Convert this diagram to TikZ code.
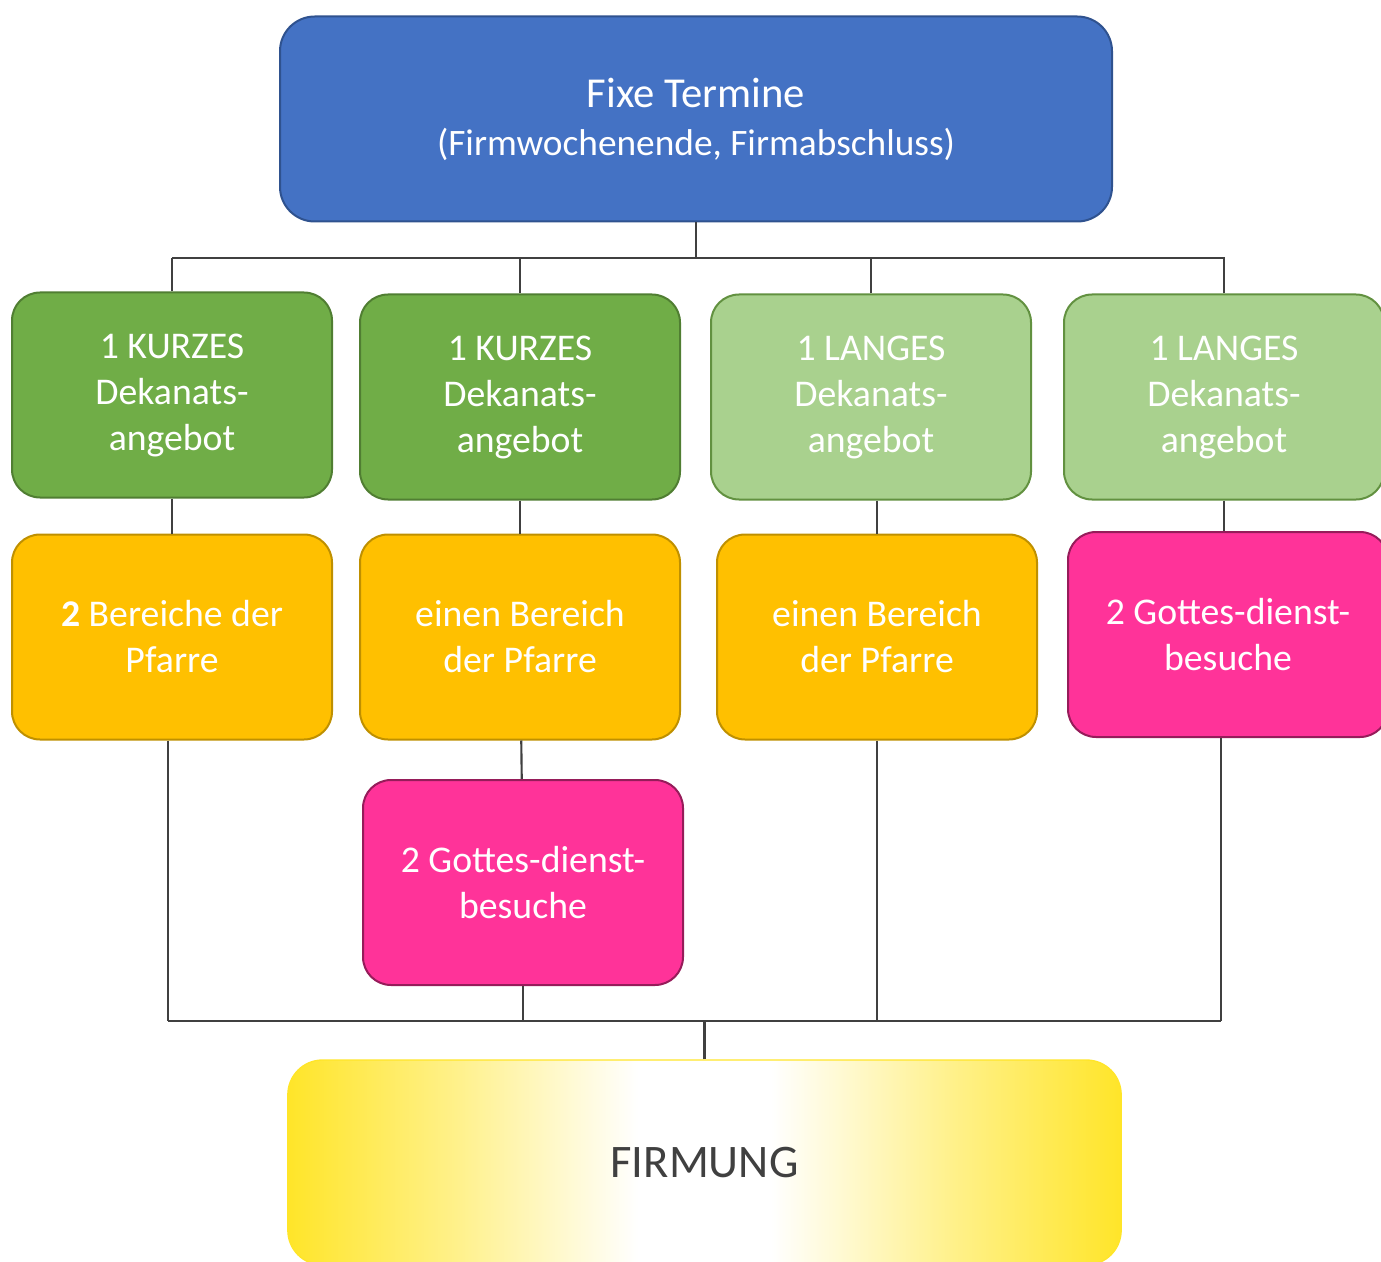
\documentclass[tikz,border=0pt]{standalone}
\usepackage{fontspec}
\setmainfont{Carlito}
\usetikzlibrary{calc}

\definecolor{fixblue}{RGB}{68,114,196}
\definecolor{fixblueline}{RGB}{47,82,143}
\definecolor{kurzgreen}{RGB}{112,173,71}
\definecolor{kurzline}{RGB}{80,126,50}
\definecolor{langgreen}{RGB}{169,209,142}
\definecolor{langline}{RGB}{98,145,64}
\definecolor{pfarreorange}{RGB}{255,192,0}
\definecolor{pfarreline}{RGB}{191,144,0}
\definecolor{gdpink}{RGB}{255,51,153}
\definecolor{gdline}{RGB}{150,28,90}
\definecolor{firmyellow}{RGB}{255,229,41}
\definecolor{wiregray}{RGB}{64,64,64}

\pgfdeclarehorizontalshading{firmglow}{100bp}{color(0bp)=(firmyellow); color(25bp)=(firmyellow); color(35bp)=(firmyellow!55!white); color(46bp)=(white); color(54bp)=(white); color(65bp)=(firmyellow!55!white); color(75bp)=(firmyellow); color(100bp)=(firmyellow)}

\tikzset{every picture/.style={line width=0.75pt}}
\tikzset{
  tile/.style={rounded corners=21pt, line width=1.5pt, text=white, align=center, inner sep=0pt,
    minimum width=240pt, minimum height=153.75pt, font=\fontsize{28.3}{34.5}\selectfont},
  kurz/.style={tile, fill=kurzgreen, draw=kurzline},
  lang/.style={tile, fill=langgreen, draw=langline},
  pfarre/.style={tile, fill=pfarreorange, draw=pfarreline},
  gd/.style={tile, fill=gdpink, draw=gdline},
  wire/.style={draw=wiregray, line width=1.6pt}
}

\begin{document}
\begin{tikzpicture}[x=0.75pt,y=0.75pt,yscale=-1,xscale=1]
\useasboundingbox (0,0) rectangle (1381,1262);

%Shape: Rounded Rect [top]
\node (fixe) [tile, fill=fixblue, draw=fixblueline, rounded corners=26pt, minimum width=624pt,
  font=\fontsize{32}{36}\selectfont] at (696,119) {Fixe Termine\\{\fontsize{28}{36}\selectfont(Firmwochenende, Firmabschluss)}};

%Shape: Rounded Rect [row 1]
\node (kurzA) [kurz] at (172,395) {1 KURZES\\Dekanats-\\angebot};
\node (kurzB) [kurz] at (520,397) {1 KURZES\\Dekanats-\\angebot};
\node (langA) [lang] at (871,397) {1 LANGES\\Dekanats-\\angebot};
\node (langB) [lang] at (1224,397) {1 LANGES\\Dekanats-\\angebot};

%Shape: Rounded Rect [row 2]
\node (bereichA) [pfarre] at (172,637) {\textbf{2} Bereiche der\\Pfarre};
\node (bereichB) [pfarre] at (520,637) {einen Bereich\\der Pfarre};
\node (bereichC) [pfarre] at (877,637) {einen Bereich\\der Pfarre};
\node (gdB) [gd] at (1228,634.5) {2 Gottes-dienst-\\besuche};

%Shape: Rounded Rect [row 3]
\node (gdA) [gd] at (523,882.5) {2 Gottes-dienst-\\besuche};

%Shape: Rounded Rect [bottom]
\node (firmung) [tile, shading=firmglow, draw=firmyellow, line width=1pt, rounded corners=26pt,
  minimum width=625pt, text=wiregray, font=\fontsize{35}{42}\selectfont] at (704.5,1162.5) {FIRMUNG};

%Straight Lines [top bus]
\coordinate (busL) at (172,258);
\coordinate (busR) at (1225,258);
\draw [wire] (busL) -- (busR);
\draw [wire] (fixe.south) -- (fixe.south |- busL);
\foreach \n in {kurzA,kurzB,langA,langB}
  \draw [wire] (\n.north) -- (\n.north |- busL);

%Straight Lines [inner links]
\draw [wire] (kurzA) -- (bereichA);
\draw [wire] (kurzB) -- (bereichB);
\draw [wire] (bereichC.north |- langA.south) -- (bereichC.north);
\draw [wire] (langB.south) -- (langB.south |- gdB.north);
\draw [wire] (bereichB) -- (gdA);

%Straight Lines [bottom bus]
\coordinate (sumL) at (168,1021);
\coordinate (sumR) at (1221,1021);
\draw [wire] (sumL) -- (sumR);
\draw [wire] (bereichA.south -| sumL) -- (sumL);
\draw [wire] (gdB.south -| sumR) -- (sumR);
\foreach \n in {gdA,bereichC}
  \draw [wire] (\n.south) -- (\n.south |- sumL);
\draw [wire] (firmung.north) -- (firmung.north |- sumL);

\end{tikzpicture}
\end{document}
